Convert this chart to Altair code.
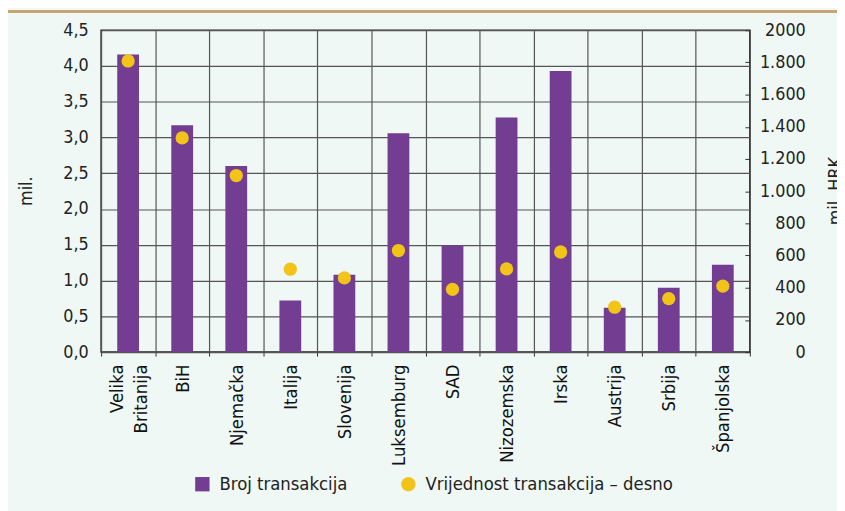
import altair as alt
import pandas as pd

countries = ["Velika Britanija", "BiH", "Njemačka", "Italija", "Slovenija", "Luksemburg",
             "SAD", "Nizozemska", "Irska", "Austrija", "Srbija", "Španjolska"]
broj = [4.16, 3.17, 2.60, 0.72, 1.08, 3.06, 1.49, 3.28, 3.93, 0.62, 0.90, 1.22]
vrijednost = [1809, 1331, 1097, 515, 461, 631, 390, 517, 622, 279, 332, 410]
left_ticks = [0, 0.5, 1.0, 1.5, 2.0, 2.5, 3.0, 3.5, 4.0, 4.5]
right_ticks = [0, 200, 400, 600, 800, 1000, 1200, 1400, 1600, 1800, 2000]
series = ["Broj transakcija", "Vrijednost transakcija – desno"]

PURPLE = "#733D91"
YELLOW = "#F2C318"
FONT = "DejaVu Sans Condensed, DejaVu Sans, sans-serif"
GRID = "#555555"

df_b = pd.DataFrame({"zemlja": countries, "vrijednost": broj, "serija": series[0]})
df_p = pd.DataFrame({"zemlja": countries, "vrijednost": vrijednost, "serija": series[1]})

color_scale = alt.Scale(domain=series, range=[PURPLE, YELLOW])
shape_scale = alt.Scale(domain=series, range=["square", "circle"])

x_enc = alt.X(
    "zemlja:N", sort=countries, title=None,
    scale=alt.Scale(paddingInner=0, paddingOuter=0),
    axis=alt.Axis(
        labelAngle=-90, labelFont=FONT, labelFontSize=18.5, labelColor="#111111",
        labelLineHeight=25,
        labelExpr="datum.value == 'Velika Britanija' ? ['Velika', 'Britanija'] : datum.value",
        labelOffset={"condition": {"test": "datum.value == 'Velika Britanija'", "value": -12}, "value": 0},
        grid=True, gridColor=GRID, gridWidth=1.2, tickBand="extent",
        tickSize=4, tickColor="#333333", labelPadding=8, domain=False,
    ),
)

legend = alt.Legend(
    title=None, orient="none", legendX=93, legendY=449, direction="horizontal",
    labelFont=FONT, labelFontSize=18.5, labelColor="#222222", symbolSize=210,
    symbolStrokeWidth=0, columnPadding=52, labelOffset=8, labelLimit=400,
)

bars = alt.Chart(df_b).mark_bar(size=22).encode(
    x=x_enc,
    y=alt.Y(
        "vrijednost:Q", scale=alt.Scale(domain=[0, 4.5], nice=False, zero=True),
        axis=alt.Axis(
            values=left_ticks, title="mil.", titleFont=FONT, titleFontSize=18,
            titleFontWeight="normal", titleColor="#222222", titleX=-75, titleY=162,
            titleAngle=270, titleAlign="center", titleBaseline="middle",
            labelFont=FONT, labelFontSize=18, labelColor="#222222",
            labelExpr="replace(format(datum.value, '.1f'), '.', ',')",
            grid=True, gridColor=GRID, gridWidth=1.2, tickSize=0, labelPadding=13,
            domain=False,
        ),
    ),
    color=alt.Color("serija:N", scale=color_scale, legend=legend),
)

points = alt.Chart(df_p).mark_point(filled=True, size=180, opacity=1).encode(
    x=x_enc,
    y=alt.Y(
        "vrijednost:Q", scale=alt.Scale(domain=[0, 2000], nice=False, zero=True),
        axis=alt.Axis(
            orient="right", values=right_ticks, title="mil. HRK", titleFont=FONT,
            titleFontSize=18, titleFontWeight="normal", titleColor="#222222",
            titleX=92, titleY=162, titleAngle=270, titleAlign="center",
            titleBaseline="middle",
            labelFont=FONT, labelFontSize=18, labelColor="#222222",
            labelExpr="datum.value >= 2000 ? '2000' : replace(format(datum.value, ','), ',', '.')",
            labelAlign="right", labelPadding=56, tickSize=5, offset=-5,
            tickColor="#333333", grid=False, domain=False,
        ),
    ),
    color=alt.Color("serija:N", scale=color_scale, legend=legend),
    shape=alt.Shape("serija:N", scale=shape_scale, legend=legend),
)

topline = alt.Chart(df_b).mark_rule(color="#C8A46E", strokeWidth=2).encode(
    x=alt.value(-94), x2=alt.value(743), y=alt.value(-19)
)

chart = alt.layer(bars, points, topline).resolve_scale(y="independent").properties(
    width=655, height=325,
    autosize=alt.AutoSizeParams(type="none"),
    padding={"left": 94, "top": 20, "right": 88, "bottom": 158},
    background="#EFF8F4",
).configure_view(stroke="#222222", strokeWidth=1.5)

chart.save("out.html", embed_options={"renderer": "svg", "actions": False})
